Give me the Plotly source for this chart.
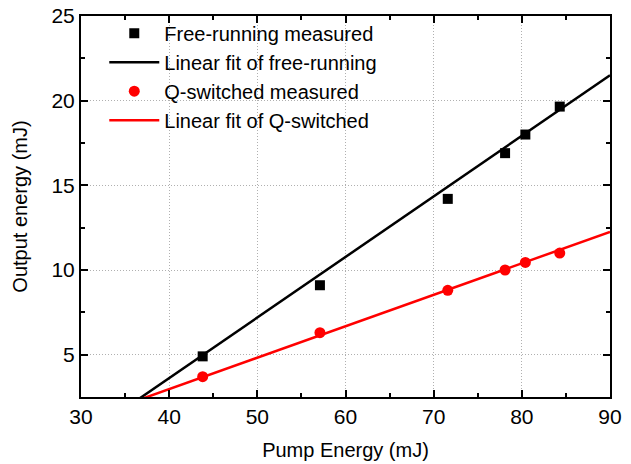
import plotly.graph_objects as go

fr_pump = [43.8, 57.1, 71.6, 78.1, 80.4, 84.3]
fr_out = [4.9, 9.1, 14.2, 16.9, 18.0, 19.65]
qs_pump = [43.8, 57.1, 71.6, 78.1, 80.4, 84.3]
qs_out = [3.7, 6.3, 8.8, 10.0, 10.45, 11.0]

# Linear-fit lines (end points)
fr_fit_x = [30, 90]
fr_fit_y = [0.04, 21.5]
qs_fit_x = [30, 90]
qs_fit_y = [1.11, 12.25]

FONT = "Liberation Sans, Arial, sans-serif"

fig = go.Figure()
fig.add_trace(go.Scatter(x=fr_pump, y=fr_out, mode="markers", name="Free-running measured",
                         marker=dict(symbol="square", size=10, color="black")))
fig.add_trace(go.Scatter(x=fr_fit_x, y=fr_fit_y, mode="lines", name="Linear fit of free-running",
                         line=dict(color="black", width=2.5)))
fig.add_trace(go.Scatter(x=qs_pump, y=qs_out, mode="markers", name="Q-switched measured",
                         marker=dict(symbol="circle", size=11, color="red")))
fig.add_trace(go.Scatter(x=qs_fit_x, y=qs_fit_y, mode="lines", name="Linear fit of Q-switched",
                         line=dict(color="red", width=2.5)))

axis_common = dict(
    showline=True, linecolor="black", linewidth=2, mirror="allticks",
    ticks="inside", ticklen=7, tickwidth=1.5, tickcolor="black",
    showgrid=True, gridcolor="#b0b0b0", griddash="1px,2px", gridwidth=1,
    zeroline=False, tickfont=dict(family=FONT, size=21, color="black"),
    automargin=False,
)

fig.update_xaxes(range=[30, 90], dtick=10, tick0=30,
                 minor=dict(ticks="inside", dtick=5, ticklen=4, tickcolor="black", showgrid=False),
                 title=dict(text="Pump Energy (mJ)", font=dict(family=FONT, size=20, color="black"), standoff=16),
                 **axis_common)
fig.update_yaxes(range=[2.5, 25], dtick=5, tick0=0,
                 minor=dict(ticks="inside", dtick=2.5, ticklen=4, tickcolor="black", showgrid=False),
                 title=dict(text="Output energy (mJ)", font=dict(family=FONT, size=20, color="black"), standoff=18),
                 **axis_common)

fig.update_layout(
    width=631, height=464,
    margin=dict(l=81, r=21, t=16, b=67, autoexpand=False),
    plot_bgcolor="white", paper_bgcolor="white",
    showlegend=True,
    legend=dict(x=0.044, y=1.006, xanchor="left", yanchor="top", bgcolor="rgba(0,0,0,0)",
                font=dict(family=FONT, size=20, color="black"), tracegroupgap=0, itemwidth=50),
)

fig.write_html("out.html")
